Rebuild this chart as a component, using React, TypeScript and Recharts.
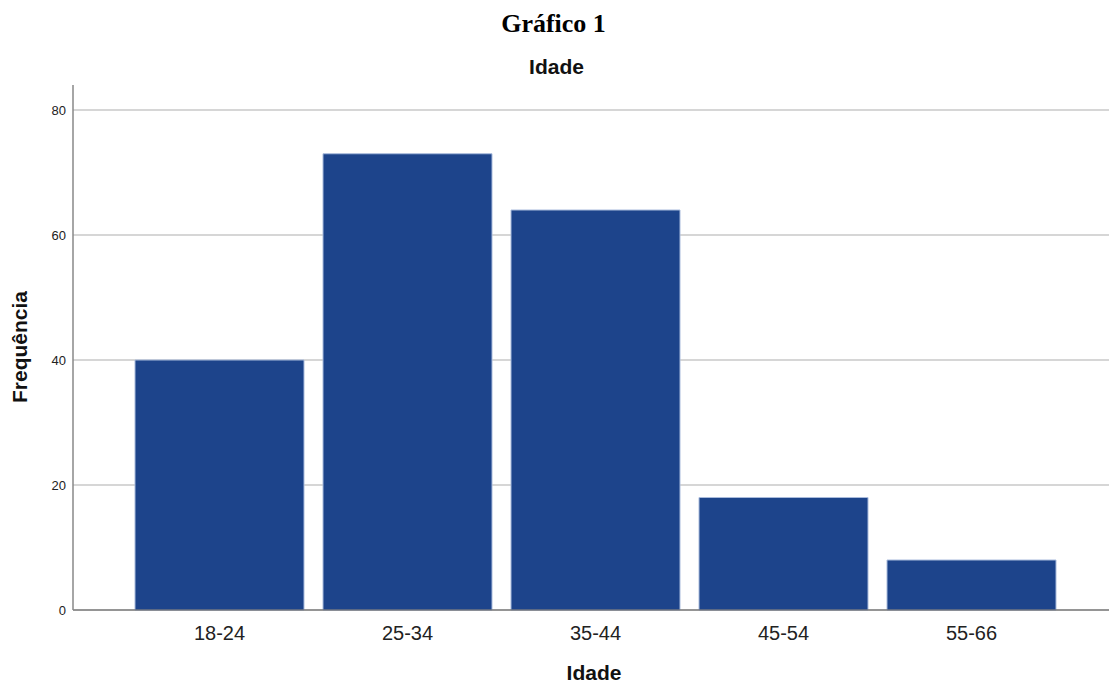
import { Bar, BarChart, CartesianGrid, XAxis, YAxis } from "recharts";

const categories = ["18-24", "25-34", "35-44", "45-54", "55-66"];
const frequencies = [40, 73, 64, 18, 8];
const yTicks = [0, 20, 40, 60, 80];

const data = categories.map((faixa, i) => ({ faixa, freq: frequencies[i] }));

const sans = "'Liberation Sans', Arial, sans-serif";

export default function App() {
  return (
    <div
      style={{
        position: "absolute",
        left: 0,
        top: 0,
        width: 1109,
        height: 682,
        background: "#fff",
        fontFamily: sans,
      }}
    >
      <div
        style={{
          position: "absolute",
          top: 9,
          left: 0,
          width: 1107,
          textAlign: "center",
          fontFamily: "'Liberation Serif', 'Times New Roman', serif",
          fontWeight: "bold",
          fontSize: 26,
          color: "#000",
        }}
      >
        Gráfico 1
      </div>
      <div
        style={{
          position: "absolute",
          top: 55,
          left: 0,
          width: 1113,
          textAlign: "center",
          fontWeight: "bold",
          fontSize: 21,
          color: "#111",
        }}
      >
        Idade
      </div>
      <div
        style={{
          position: "absolute",
          left: 20,
          top: 347,
          transform: "translate(-50%, -50%) rotate(-90deg)",
          fontWeight: "bold",
          fontSize: 21,
          color: "#111",
          whiteSpace: "nowrap",
        }}
      >
        Frequência
      </div>
      <div
        style={{
          position: "absolute",
          top: 661,
          left: 73,
          width: 1042,
          textAlign: "center",
          fontWeight: "bold",
          fontSize: 21,
          color: "#111",
        }}
      >
        Idade
      </div>
      <BarChart
        width={1109}
        height={682}
        data={data}
        barCategoryGap={9.5}
        margin={{ top: 85, right: 0, bottom: 0, left: 0 }}
      >
        <CartesianGrid
          vertical={false}
          horizontalValues={yTicks}
          stroke="#c8c8c8"
          strokeWidth={1.5}
        />
        <XAxis
          dataKey="faixa"
          height={72}
          padding={{ left: 52.5, right: 43.5 }}
          tickLine={false}
          stroke="#555"
          tick={{ fill: "#222", fontSize: 20, fontFamily: sans }}
          tickMargin={10}
        />
        <YAxis
          width={73}
          domain={[0, 84]}
          ticks={yTicks}
          tickLine={false}
          stroke="#888"
          strokeWidth={1.5}
          tick={{ fill: "#222", fontSize: 13, fontFamily: sans }}
          tickMargin={1}
        />
        <Bar
          dataKey="freq"
          fill="#1d448b"
          stroke="#a9bbdc"
          strokeWidth={1}
          isAnimationActive={false}
        />
      </BarChart>
    </div>
  );
}
